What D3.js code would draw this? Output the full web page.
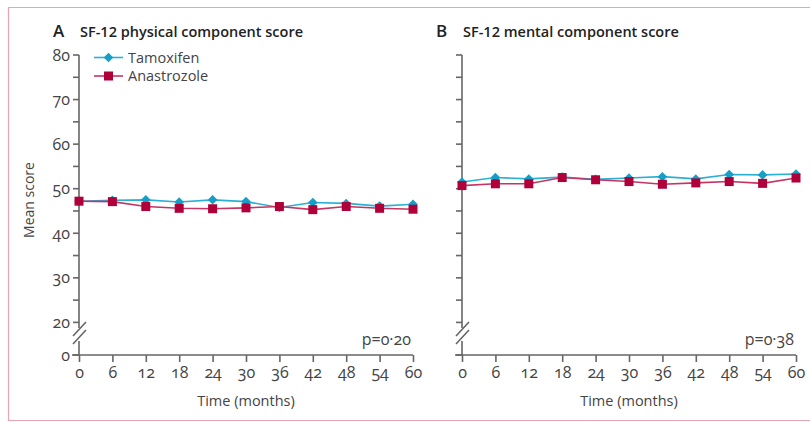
<!DOCTYPE html>
<html>
<head>
  <meta charset="utf-8">
  <title>SF-12</title>
  <script type="text/javascript" src="https://cdn.jsdelivr.net/npm/d3@7"></script>
  <style>
    body {
      margin: 0;
      background: #fff;
      font-family: "Open Sans", sans-serif;
    }
    .tick text, .lbl {
      font-size: 16px;
      fill: #444;
      font-variant-numeric: oldstyle-nums;
    }
    .title {
      font-size: 14.5px;
      font-weight: 600;
      fill: #222;
    }
    .letter {
      font-size: 17px;
      font-weight: 600;
      fill: #222;
    }
    .axis-line {
      stroke: #666;
      stroke-width: 1.6;
      fill: none;
    }
  </style>
</head>
<body>
<script>

  var months = [0, 6, 12, 18, 24, 30, 36, 42, 48, 54, 60];

  var physTamoxifen  = [47.2, 47.4, 47.5, 47.0, 47.5, 47.1, 45.8, 46.9, 46.7, 46.1, 46.5];
  var physAnastrozole = [47.2, 47.1, 46.0, 45.6, 45.5, 45.7, 46.0, 45.3, 46.0, 45.6, 45.4];

  var mentTamoxifen  = [51.5, 52.5, 52.2, 52.6, 52.1, 52.4, 52.7, 52.2, 53.2, 53.1, 53.3];
  var mentAnastrozole = [50.7, 51.1, 51.1, 52.5, 52.0, 51.6, 51.0, 51.3, 51.6, 51.2, 52.4];

  var yTicks = [20, 30, 40, 50, 60, 70, 80];
  var yMinorTicks = [25, 35, 45, 55, 65, 75];

  var panels = [
    {letter: "A", title: "SF-12 physical component score", p: "p=0·20",
     tam: physTamoxifen, ana: physAnastrozole, left: 79, labels: true, legend: true},
    {letter: "B", title: "SF-12 mental component score", p: "p=0·38",
     tam: mentTamoxifen, ana: mentAnastrozole, left: 462, labels: false, legend: false}
  ];

  var tamLine = "#2ab0d6", tamMark = "#159fc6";
  var anaLine = "#c43562", anaMark = "#b0003a";

  var svg = d3.select("body").append("svg")
      .attr("width", 810)
      .attr("height", 422);

  // frame
  svg.append("path")
      .attr("d", "M810,7.5H8.5V420.5H810")
      .attr("fill", "none")
      .attr("stroke", "#e8a3b5")
      .attr("stroke-width", 1.2);

  var plotW = 334;
  var y = d3.scaleLinear().domain([20, 80]).range([322.4, 55]);
  var yZero = 355;

  var diamond = d3.symbol().type(d3.symbolDiamond2).size(58);

  panels.forEach(function (p) {
    var x = d3.scaleLinear().domain([0, 60]).range([0, plotW]);
    var g = svg.append("g").attr("transform", "translate(" + p.left + ",0)");

    // titles
    g.append("text").attr("class", "letter").attr("x", -26).attr("y", 37).text(p.letter);
    g.append("text").attr("class", "title").attr("x", 1).attr("y", 37).text(p.title);

    // y axis with break
    g.append("path").attr("class", "axis-line").attr("d", "M0,55V328");
    g.append("path").attr("class", "axis-line").attr("d", "M0,341V" + yZero);
    g.append("path").attr("class", "axis-line").attr("d", "M-6,336L7,322M-6,344L7,330");

    yTicks.concat(yMinorTicks).forEach(function (t) {
      g.append("line").attr("class", "axis-line")
          .attr("x1", -6).attr("x2", 0).attr("y1", y(t)).attr("y2", y(t));
    });
    g.append("line").attr("class", "axis-line")
        .attr("x1", -6).attr("x2", 0).attr("y1", yZero).attr("y2", yZero);

    if (p.labels) {
      yTicks.forEach(function (t) {
        g.append("text").attr("class", "lbl").attr("x", -9).attr("y", y(t))
            .attr("dy", "0.35em").attr("text-anchor", "end").text(t);
      });
      g.append("text").attr("class", "lbl").attr("x", -9).attr("y", yZero)
          .attr("dy", "0.35em").attr("text-anchor", "end").text("0");
      g.append("text").attr("class", "lbl")
          .attr("transform", "translate(-45,200) rotate(-90)")
          .attr("text-anchor", "middle").style("font-size", "14px")
          .text("Mean score");
    }

    // x axis
    var xAxis = d3.axisBottom(x).tickValues(months).tickSize(7).tickPadding(5).tickFormat(d3.format("d"));
    var ax = g.append("g").attr("transform", "translate(0," + yZero + ")").call(xAxis);
    ax.select(".domain").attr("stroke", "#666").attr("stroke-width", 1.6).attr("d", "M-7,0H" + plotW);
    ax.selectAll(".tick line").attr("stroke", "#666").attr("stroke-width", 1.6);
    ax.selectAll(".tick text").style("font-family", "Open Sans");

    g.append("text").attr("class", "lbl").attr("x", plotW / 2).attr("y", 406)
        .attr("text-anchor", "middle").style("font-size", "14.5px").style("font-variant-numeric", "normal")
        .text("Time (months)");

    g.append("text").attr("class", "lbl").attr("x", plotW - 2).attr("y", 345)
        .attr("text-anchor", "end").text(p.p);

    // series
    var line = d3.line()
        .x(function (d, i) { return x(months[i]); })
        .y(function (d) { return y(d); });

    g.append("path").datum(p.tam).attr("d", line)
        .attr("fill", "none").attr("stroke", tamLine).attr("stroke-width", 1.6);
    g.append("path").datum(p.ana).attr("d", line)
        .attr("fill", "none").attr("stroke", anaLine).attr("stroke-width", 1.6);

    g.selectAll(".tam").data(p.tam).enter().append("path")
        .attr("d", diamond)
        .attr("transform", function (d, i) { return "translate(" + x(months[i]) + "," + y(d) + ")"; })
        .attr("fill", tamMark);

    g.selectAll(".ana").data(p.ana).enter().append("rect")
        .attr("x", function (d, i) { return x(months[i]) - 4.5; })
        .attr("y", function (d) { return y(d) - 4.5; })
        .attr("width", 9).attr("height", 9)
        .attr("fill", anaMark);

    if (p.legend) {
      var legend = [
        {name: "Tamoxifen", line: tamLine, mark: tamMark, shape: "diamond", y: 57.5},
        {name: "Anastrozole", line: anaLine, mark: anaMark, shape: "square", y: 76}
      ];
      legend.forEach(function (l) {
        g.append("line").attr("x1", 15).attr("x2", 44).attr("y1", l.y).attr("y2", l.y)
            .attr("stroke", l.line).attr("stroke-width", 1.6);
        if (l.shape === "diamond") {
          g.append("path").attr("d", diamond)
              .attr("transform", "translate(29.5," + l.y + ")").attr("fill", l.mark);
        } else {
          g.append("rect").attr("x", 25).attr("y", l.y - 4.5).attr("width", 9).attr("height", 9)
              .attr("fill", l.mark);
        }
        g.append("text").attr("class", "lbl").attr("x", 49).attr("y", l.y)
            .attr("dy", "0.35em").style("font-size", "14.5px").text(l.name);
      });
    }
  });

</script>
</body>
</html>
